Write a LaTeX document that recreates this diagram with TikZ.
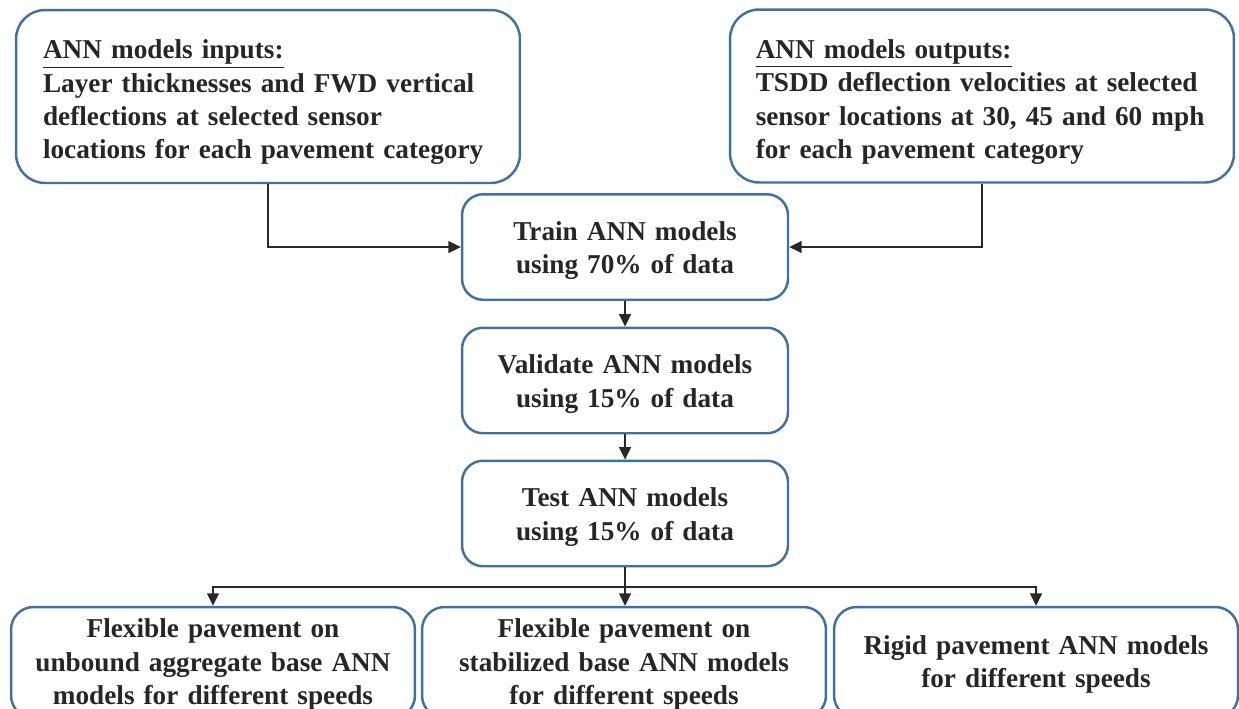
\documentclass[tikz,border=0pt]{standalone}
\usepackage{fontspec}
\setmainfont[WordSpace={0.88,0,0}]{Liberation Serif}
\usetikzlibrary{arrows.meta}
\definecolor{boxblue}{RGB}{65,113,156}
\definecolor{linegray}{RGB}{40,40,40}
\definecolor{txt}{RGB}{38,38,38}
\begin{document}
\begin{tikzpicture}[x=0.02cm,y=-0.02cm,
  box/.style={draw=boxblue, line width=1.4pt, fill=white,
    font=\fontsize{15.5}{19}\selectfont\bfseries, text=txt, align=center, inner sep=0pt},
  topbox/.style={box, rounded corners=0.58cm, minimum width=10.08cm, minimum height=3.46cm, align=left,
    execute at begin node={\rule{0pt}{17.5pt}}},
  midbox/.style={box, rounded corners=0.42cm, minimum width=6.52cm, minimum height=2.11cm, text width=6.2cm,
    execute at begin node={\rule{0pt}{15pt}}},
  botbox/.style={box, rounded corners=0.45cm, minimum width=8.08cm, minimum height=2.22cm, text width=7.9cm,
    execute at begin node={\rule{0pt}{13pt}}},
  conn/.style={draw=linegray, line width=0.9pt, -{Triangle[length=0.25cm,width=0.24cm]}}]
\useasboundingbox (0,0) rectangle (1239,708);
\node[topbox, text width=9cm] (inp) at (268,96.5)
  {\underline{ANN models inputs:}\\
   Layer thicknesses and FWD vertical\\
   deflections at selected sensor\\
   locations for each pavement category};
\node[topbox, text width=9.05cm] (out) at (982,96)
  {\underline{ANN models outputs:}\\
   TSDD deflection velocities at selected\\
   sensor locations at 30, 45 and 60 mph\\
   for each pavement category};
\node[midbox] (train) at (625,247) {Train ANN models\\using 70\% of data};
\node[midbox] (val) at (625,380.5) {Validate ANN models\\using 15\% of data};
\node[midbox] (test) at (625,513.5) {Test ANN models\\using 15\% of data};
\node[botbox] (b1) at (213,662.5) {Flexible pavement on\\unbound aggregate base ANN\\models for different speeds};
\node[botbox] (b2) at (624,662.5) {Flexible pavement on\\stabilized base ANN models\\for different speeds};
\node[botbox] (b3) at (1036,662.5) {Rigid pavement ANN models\\for different speeds};
\coordinate (j) at (625,587);
\draw[conn] (inp.south) |- (train.west);
\draw[conn] (out.south) |- (train.east);
\draw[conn] (train.south) -- (val.north);
\draw[conn] (val.south) -- (test.north);
\draw[conn] (test.south) -- (test.south |- b2.north);
\draw[conn] (j) -| (b1.north);
\draw[conn] (j) -| (b3.north);
\end{tikzpicture}
\end{document}
